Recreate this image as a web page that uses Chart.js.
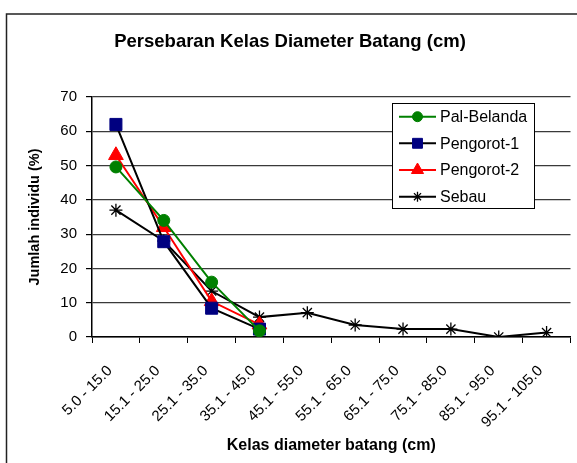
<!DOCTYPE html>
<html>
<head>
<meta charset="utf-8">
<script src="https://cdn.jsdelivr.net/npm/chart.js@4/dist/chart.umd.min.js"></script>
<style>
  body { margin: 0; background: #fff; }
  #wrap { width: 577px; height: 463px; overflow: hidden; }
</style>
</head>
<body>
<div id="wrap"><canvas id="grafik" width="580" height="475"></canvas></div>
<script>
// data
const kelas = ['5.0 - 15.0', '15.1 - 25.0', '25.1 - 35.0', '35.1 - 45.0', '45.1 - 55.0',
  '55.1 - 65.0', '65.1 - 75.0', '75.1 - 85.0', '85.1 - 95.0', '95.1 - 105.0'];
const palBelanda = [49.6, 34, 16, 1.8];
const pengorot1 = [62, 27.8, 8.4, 2.3];
const pengorot2 = [53, 32, 10.4, 3.6];
const sebau = [37, 28, 13.4, 5.8, 7.1, 3.5, 2.3, 2.3, 0, 1.3];
const yTicks = [0, 10, 20, 30, 40, 50, 60, 70];

const FONT = 'Arial, "Liberation Sans", sans-serif';

// bingkai luar grafik
const bingkai = {
  id: 'bingkai',
  beforeDraw(chart) {
    const c = chart.ctx;
    c.save();
    c.fillStyle = '#fff';
    c.fillRect(0, 0, chart.width, chart.height);
    c.strokeStyle = '#222';
    c.lineWidth = 1.5;
    c.strokeRect(6.5, 14, 700, 700);
    c.restore();
  }
};

// legenda di dalam area plot
const legendaDalam = {
  id: 'legendaDalam',
  afterDraw(chart) {
    const c = chart.ctx;
    c.save();
    c.fillStyle = '#fff';
    c.fillRect(392.5, 103.5, 142, 105);
    c.strokeStyle = '#000';
    c.lineWidth = 1;
    c.strokeRect(392.5, 103.5, 142, 105);
    const rows = [116.7, 143.3, 170, 196.7];
    chart.data.datasets.forEach((ds, i) => {
      const y = rows[i];
      c.strokeStyle = ds.borderColor;
      c.lineWidth = 2;
      c.beginPath();
      c.moveTo(399, y);
      c.lineTo(436, y);
      c.stroke();
      c.fillStyle = ds.pointBackgroundColor;
      c.strokeStyle = ds.pointBorderColor;
      c.lineWidth = ds.pointBorderWidth;
      Chart.helpers.drawPoint(c, {
        pointStyle: ds.pointStyle,
        radius: ds.legendRadius,
        rotation: 0,
        borderWidth: ds.pointBorderWidth
      }, 417.5, y);
      c.fillStyle = '#000';
      c.font = '16px ' + FONT;
      c.textBaseline = 'middle';
      c.textAlign = 'left';
      c.fillText(ds.label, 440, y + 1);
    });
    c.restore();
  }
};

new Chart(document.getElementById('grafik'), {
  type: 'line',
  data: {
    labels: kelas,
    datasets: [
      {
        label: 'Pal-Belanda',
        data: palBelanda,
        borderColor: '#008000',
        borderWidth: 2,
        pointStyle: 'circle',
        pointRadius: 6,
        legendRadius: 5,
        pointBackgroundColor: '#008000',
        pointBorderColor: '#008000',
        pointBorderWidth: 1,
        tension: 0
      },
      {
        label: 'Pengorot-1',
        data: pengorot1,
        borderColor: '#000',
        borderWidth: 2,
        pointStyle: 'rect',
        pointRadius: 8.5,
        legendRadius: 7,
        pointBackgroundColor: '#000080',
        pointBorderColor: '#000080',
        pointBorderWidth: 1,
        tension: 0
      },
      {
        label: 'Pengorot-2',
        data: pengorot2,
        borderColor: '#ff0000',
        borderWidth: 2,
        pointStyle: 'triangle',
        pointRadius: 8.5,
        legendRadius: 7,
        pointBackgroundColor: '#ff0000',
        pointBorderColor: '#ff0000',
        pointBorderWidth: 1,
        tension: 0
      },
      {
        label: 'Sebau',
        data: sebau,
        borderColor: '#000',
        borderWidth: 2,
        pointStyle: 'star',
        pointRadius: 6.5,
        legendRadius: 5,
        pointBackgroundColor: '#000',
        pointBorderColor: '#000',
        pointBorderWidth: 1.3,
        tension: 0
      }
    ]
  },
  options: {
    responsive: false,
    animation: false,
    layout: { padding: 0 },
    plugins: {
      legend: { display: false },
      tooltip: { enabled: false },
      title: {
        display: true,
        text: 'Persebaran Kelas Diameter Batang (cm)',
        color: '#000',
        font: { family: FONT, size: 18.5, weight: 'bold', lineHeight: 1.2 },
        padding: { top: 31, bottom: 43.8 }
      }
    },
    scales: {
      x: {
        offset: true,
        grid: {
          offset: true,
          drawOnChartArea: false,
          drawTicks: true,
          tickLength: 6,
          tickColor: '#000',
          tickWidth: 1
        },
        border: { color: '#000', width: 1.5 },
        ticks: {
          color: '#000',
          font: { family: FONT, size: 15 },
          minRotation: 45,
          maxRotation: 45,
          padding: 19,
          labelOffset: -6,
          autoSkip: false
        },
        title: {
          display: true,
          text: 'Kelas diameter batang (cm)',
          color: '#000',
          font: { family: FONT, size: 16, weight: 'bold', lineHeight: 1.2 },
          padding: { top: 0, bottom: 19.4 }
        },
        afterFit(scale) { scale.height = 475 - 337; }
      },
      y: {
        min: 0,
        max: 70,
        afterBuildTicks(scale) { scale.ticks = yTicks.map(v => ({ value: v })); },
        grid: {
          color: '#3a3a3a',
          lineWidth: 1.2,
          drawTicks: true,
          tickLength: 6,
          tickColor: '#000'
        },
        border: { color: '#000', width: 1.5 },
        ticks: {
          color: '#000',
          font: { family: FONT, size: 15 },
          padding: 9
        },
        title: {
          display: true,
          text: 'Jumlah individu (%)',
          color: '#000',
          font: { family: FONT, size: 14.5, weight: 'bold', lineHeight: 1.2 },
          padding: { top: 26, bottom: 0 }
        },
        afterFit(scale) { scale.width = 92; }
      }
    }
  },
  plugins: [bingkai, legendaDalam]
});
</script>
</body>
</html>
